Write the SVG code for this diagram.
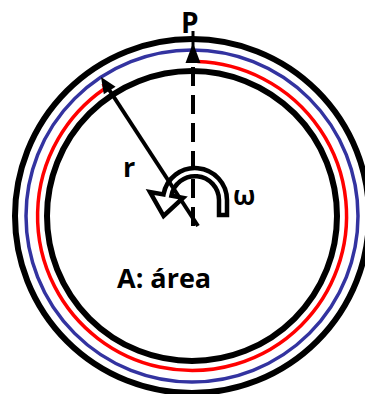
<svg xmlns="http://www.w3.org/2000/svg" width="365" height="394" viewBox="0 0 365 394">
  <style>
    .ring { fill: none; stroke: #000; stroke-width: 6; }
    .lbl { font-family: "Open Sans", "Liberation Sans", sans-serif; font-weight: bold; fill: #000; }
    .conn { stroke: #000; stroke-width: 4; fill: none; }
  </style>
  <rect width="365" height="394" fill="#fff"/>
  <g id="outer-circle"><circle class="ring" cx="192" cy="216" r="177"/></g>
  <g id="blue-path"><circle cx="192" cy="216" r="166" fill="none" stroke="#3333a0" stroke-width="3.5"/></g>
  <g id="red-path">
    <path d="M 197.4 61.6 A 154.5 154.5 0 1 1 104.1 89.0" fill="none" stroke="#ff0000" stroke-width="3.5"/>
    <polygon points="109.5,85.5 101.5,84 104.5,92.5" fill="#ff0000"/>
  </g>
  <g id="inner-circle"><circle class="ring" cx="192" cy="216" r="145"/></g>
  <g id="rotation">
    <path d="M 227 215 L 227 200 A 32 32 0 0 0 163.5 194.4 L 150 192 L 163.6 216 L 183 197.9 L 171.4 195.8 A 24 24 0 0 1 219 200 L 219 215 Z" fill="#fff" stroke="#000" stroke-width="4.5" stroke-linejoin="miter"/>
  </g>
  <g id="connectors">
    <line class="conn" x1="193" y1="226" x2="193" y2="62" stroke-width="4.5" stroke-dasharray="19 9"/>
    <line x1="193" y1="31" x2="193" y2="50" stroke="#000" stroke-width="3"/>
    <polygon points="193,43 185.5,63 200.5,63" fill="#000"/>
    <line class="conn" x1="198" y1="226" x2="108" y2="88"/>
    <polygon points="101,77 115.6,86.7 103.8,94.3" fill="#000"/>
  </g>
  <g id="label-P"><text class="lbl" x="181" y="33" font-size="28">P</text></g>
  <g id="label-r"><text class="lbl" x="123" y="177" font-size="27">r</text></g>
  <g id="label-omega"><text class="lbl" x="233" y="205" font-size="26">ω</text></g>
  <g id="label-area"><text class="lbl" x="117" y="288" font-size="27">A: área</text></g>
</svg>
